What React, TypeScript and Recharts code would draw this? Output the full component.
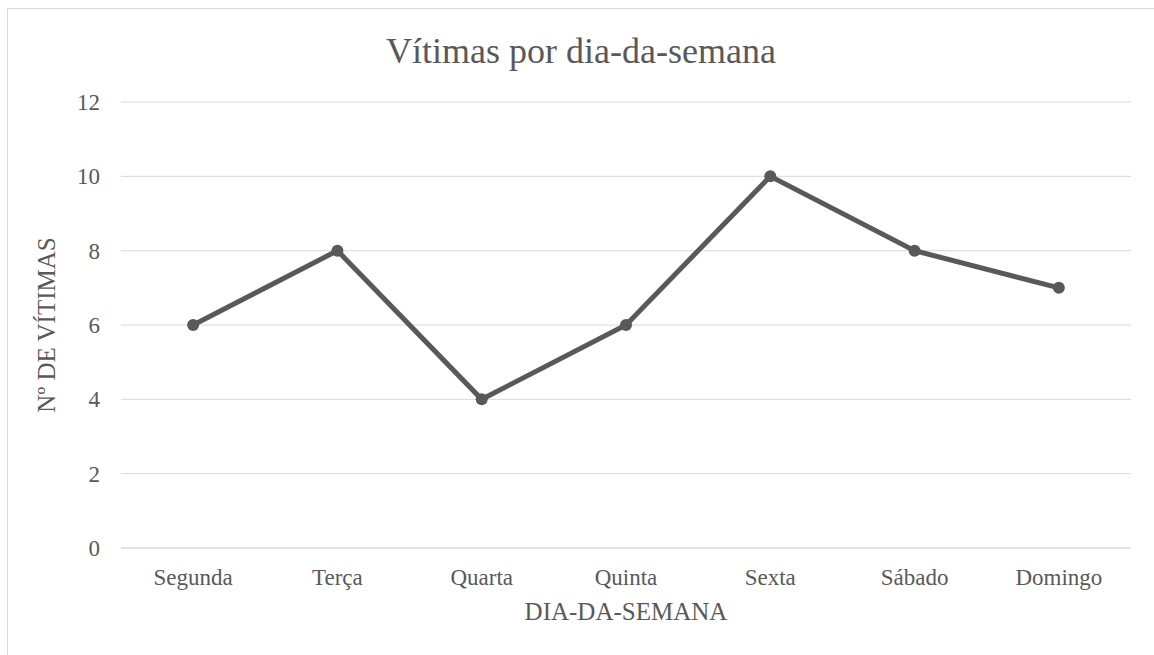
import { LineChart, Line, XAxis, YAxis, CartesianGrid } from 'recharts';

// victims per weekday
const days = ['Segunda', 'Terça', 'Quarta', 'Quinta', 'Sexta', 'Sábado', 'Domingo'];
const victims = [6, 8, 4, 6, 10, 8, 7];
const yTicks = [0, 2, 4, 6, 8, 10, 12];

const data = days.map((day, i) => ({ day, victims: victims[i] }));

const FONT = '"Liberation Serif", "Times New Roman", serif';
const TEXT = '#595959';
const GRID = '#d9d9d9';

export default function App() {
  return (
    <div
      style={{
        position: 'absolute',
        left: 7,
        top: 8,
        width: 1147,
        height: 647,
        boxSizing: 'border-box',
        borderTop: `1px solid ${GRID}`,
        borderLeft: `1px solid ${GRID}`,
        background: '#fff',
        fontFamily: FONT,
      }}
    >
      <div
        style={{
          position: 'absolute',
          left: 0,
          top: 24,
          width: '100%',
          textAlign: 'center',
          fontSize: 36,
          lineHeight: '36px',
          color: TEXT,
        }}
      >
        Vítimas por dia-da-semana
      </div>
      <LineChart
        width={1146}
        height={646}
        data={data}
        margin={{ top: 93, right: 23, left: 0, bottom: 0 }}
        style={{ fontFamily: FONT }}
      >
        <CartesianGrid vertical={false} stroke={GRID} strokeWidth={1} />
        <XAxis
          dataKey="day"
          scale="band"
          height={107}
          axisLine={{ stroke: GRID }}
          tickLine={false}
          tickSize={0}
          tickMargin={21}
          tick={{ fill: TEXT, fontSize: 23, fontFamily: FONT }}
          label={{
            value: 'DIA-DA-SEMANA',
            position: 'insideBottom',
            offset: 35,
            fill: TEXT,
            fontSize: 25,
            fontFamily: FONT,
          }}
        />
        <YAxis
          domain={[0, 12]}
          ticks={yTicks}
          width={113}
          axisLine={false}
          tickLine={false}
          tickSize={0}
          tickMargin={21}
          tick={{ fill: TEXT, fontSize: 23, fontFamily: FONT }}
          label={{
            value: 'Nº DE VÍTIMAS',
            angle: -90,
            position: 'insideLeft',
            offset: 38,
            fill: TEXT,
            fontSize: 25,
            fontFamily: FONT,
            style: { textAnchor: 'middle' },
          }}
        />
        <Line
          type="linear"
          dataKey="victims"
          stroke="#595959"
          strokeWidth={5}
          dot={{ r: 6, fill: '#595959', stroke: '#595959', strokeWidth: 0 }}
          activeDot={false}
          isAnimationActive={false}
        />
      </LineChart>
    </div>
  );
}
